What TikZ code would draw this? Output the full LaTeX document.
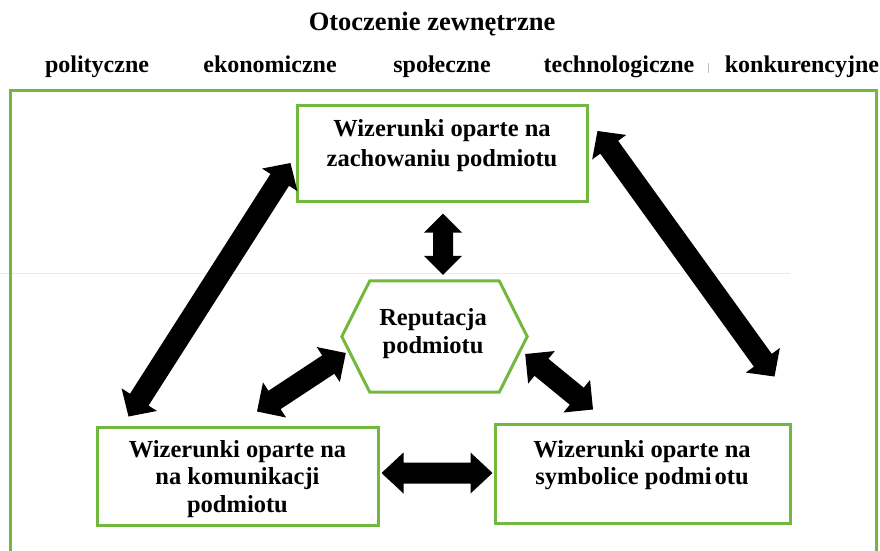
\documentclass[tikz,border=0pt]{standalone}
\usepackage{fontspec}
\setmainfont{Liberation Serif}
\usetikzlibrary{calc}
\definecolor{grn}{RGB}{114,184,62}
% #1 tip A, #2 tip B, #3 half shaft, #4 half head, #5 head length
\newcommand\fatarr[5]{%
  \coordinate (fa-p) at ($(#1)!#5!(#2)$);
  \coordinate (fa-q) at ($(#2)!#5!(#1)$);
  \fill[black] (#1) -- ($(fa-p)!#4!90:(#2)$) -- ($(fa-p)!#3!90:(#2)$)
    -- ($(fa-q)!#3!-90:(#1)$) -- ($(fa-q)!#4!-90:(#1)$) -- (#2)
    -- ($(fa-q)!#4!90:(#1)$) -- ($(fa-q)!#3!90:(#1)$)
    -- ($(fa-p)!#3!-90:(#2)$) -- ($(fa-p)!#4!-90:(#2)$) -- cycle;}
\begin{document}
\begin{tikzpicture}[x=1pt,y=-1pt,
  gbox/.style={draw=grn, line width=3pt, inner sep=0pt, fill=white},
  btxt/.style={align=center, inner sep=0pt, anchor=north},
  cat/.style={font=\bfseries\fontsize{24}{28}\selectfont, inner sep=0pt, anchor=base}]
\useasboundingbox (0,0) rectangle (880,550);
\clip (0,0) rectangle (880,550);
% faint stitching line
\draw[black!8, line width=0.8pt] (0,273) -- (790,273);
% titles
\node[cat, font=\bfseries\fontsize{26.5}{30}\selectfont] (title) at (432,30) {Otoczenie zewnętrzne};
\node[cat] (c1) at (97,72) {polityczne};
\node[cat] (c2) at (270,72) {ekonomiczne};
\node[cat] (c3) at (442,72) {społeczne};
\node[cat] (c4) at (619,72) {technologiczne};
\node[cat] (c5) at (802,72) {konkurencyjne};
\draw[black!25, line width=0.7pt] (708,63) -- (708,73);
% outer frame
\draw[grn, line width=3pt] (10,90) rectangle (876,590);
% boxes
\node[gbox, minimum width=290pt, minimum height=96pt] (top) at (442,153) {};
\node[gbox, minimum width=281pt, minimum height=98pt] (bl) at (237.5,476) {};
\node[gbox, minimum width=295pt, minimum height=99pt] (br) at (642.5,473.5) {};
\node[minimum width=185pt, minimum height=111pt, inner sep=0pt] (hex) at (434.5,336.5) {};
\draw[grn, line width=3pt, line join=miter] (hex.west) -- ([xshift=28pt]hex.north west) -- ([xshift=-28pt]hex.north east) -- (hex.east) -- ([xshift=-28pt]hex.south east) -- ([xshift=28pt]hex.south west) -- cycle;
% texts
\node[btxt, font=\bfseries\fontsize{24.5}{30}\selectfont] (topT) at (442,119) {Wizerunki oparte na\\zachowaniu podmiotu};
\node[btxt, font=\bfseries\fontsize{24.5}{28}\selectfont] (hexT) at (433,308) {Reputacja\\podmiotu};
\node[btxt, font=\bfseries\fontsize{24.5}{27.5}\selectfont] (blT) at (237.5,440) {Wizerunki oparte na\\na komunikacji\\podmiotu};
\node[btxt, font=\bfseries\fontsize{24.5}{27}\selectfont] (brT) at (642,440) {Wizerunki oparte na\\symbolice podmi\hspace{3pt}otu};
% arrow tips, taken from the nodes
\coordinate (v1) at ([shift={(1,11)}]top.south);
\coordinate (v2) at ([shift={(8.5,-6)}]hex.north);
\coordinate (l1) at ([shift={(33,-9)}]bl.north west);
\coordinate (l2) at ([shift={(-5,10)}]top.west);
\coordinate (r1) at ([shift={(9,-22)}]top.east);
\coordinate (r2) at ([shift={(-17,-46)}]br.north east);
\coordinate (m1) at ([shift={(19.5,-14)}]bl.north);
\coordinate (m2) at ([shift={(4,16.5)}]hex.west);
\coordinate (n1) at ([shift={(-49.5,-13)}]br.north);
\coordinate (n2) at ([shift={(-2,17.5)}]hex.east);
\coordinate (h1) at ([shift={(2,-3)}]bl.east);
\coordinate (h2) at ([shift={(-1,-0.5)}]br.west);
% arrows
\fatarr{v1}{v2}{10pt}{19pt}{19pt}
\fatarr{l1}{l2}{11pt}{21pt}{20pt}
\fatarr{r1}{r2}{11pt}{21pt}{20pt}
\fatarr{m1}{m2}{11pt}{21pt}{21pt}
\fatarr{n1}{n2}{11pt}{21pt}{21pt}
\fatarr{h1}{h2}{10.5pt}{20.5pt}{22pt}
\end{tikzpicture}
\end{document}
